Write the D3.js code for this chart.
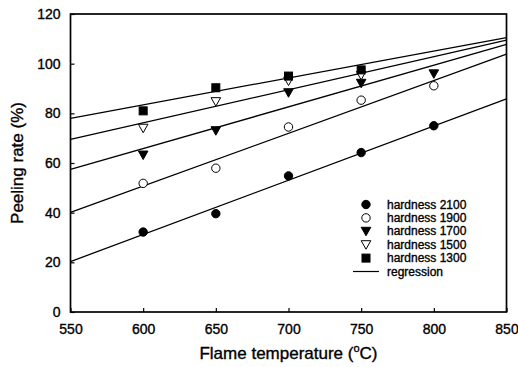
<!DOCTYPE html>
<html>
<head>
  <title>Peeling rate</title>
  <style type="text/css">
    body { margin: 0; background: #fff; }
    svg text { font-family: "Liberation Sans", Arial, sans-serif; fill: #000; stroke: #000; stroke-width: 0.35px; }
  </style>
</head>
<body>
<div id="chart"></div>
<script src="https://d3js.org/d3.v7.min.js"></script>
<script type="text/javascript">
var temps = [600, 650, 700, 750, 800];
var h2100 = [32.2, 39.6, 54.8, 64.2, 75.0];
var h1900 = [51.8, 57.9, 74.5, 85.3, 91.1];
var h1700 = [63.2, 73.0, 88.3, 92.1, 95.9];
var h1500 = [74.0, 84.7, 93.0, 95.3, null];
var h1300 = [81.0, 90.3, 95.0, 97.5, null];
// regression line values at 550 and 850
var reg2100 = [20.3, 85.8];
var reg1900 = [40.1, 103.8];
var reg1700 = [57.4, 107.8];
var reg1500 = [69.5, 109.5];
var reg1300 = [78.0, 110.5];
var xTicks = [550, 600, 650, 700, 750, 800, 850];
var yTicks = [0, 20, 40, 60, 80, 100, 120];

var series = [
  {name: "hardness 2100", vals: h2100, reg: reg2100, shape: "circle", fill: true},
  {name: "hardness 1900", vals: h1900, reg: reg1900, shape: "circle", fill: false},
  {name: "hardness 1700", vals: h1700, reg: reg1700, shape: "tri", fill: true},
  {name: "hardness 1500", vals: h1500, reg: reg1500, shape: "tri", fill: false},
  {name: "hardness 1300", vals: h1300, reg: reg1300, shape: "square", fill: true}
];

var width = 518, height = 367;
var m = {left: 70.5, right: 11.5, top: 14, bottom: 55};

var svg = d3.select("#chart").append("svg")
  .attr("width", width).attr("height", height);

var x = d3.scaleLinear().domain([550, 850]).range([m.left, width - m.right]);
var y = d3.scaleLinear().domain([0, 120]).range([height - m.bottom, m.top]);

// frame
svg.append("rect")
  .attr("x", x(550)).attr("y", y(120))
  .attr("width", x(850) - x(550)).attr("height", y(0) - y(120))
  .attr("fill", "none").attr("stroke", "#000").attr("stroke-width", 1.7);

var xAxis = svg.append("g")
  .attr("transform", "translate(0," + y(0) + ")")
  .call(d3.axisBottom(x).tickValues(xTicks).tickSizeInner(-4).tickSizeOuter(0).tickPadding(12));
var yAxis = svg.append("g")
  .attr("transform", "translate(" + x(550) + ",0)")
  .call(d3.axisLeft(y).tickValues(yTicks).tickSizeInner(-4).tickSizeOuter(0).tickPadding(10));

[xAxis, yAxis].forEach(function (g) {
  g.select(".domain").remove();
  g.selectAll(".tick line").attr("stroke", "#000").attr("stroke-width", 1.2);
  g.selectAll(".tick text").style("font-size", "14px").style("font-family", "Liberation Sans, Arial, sans-serif");
});

// regression lines
series.forEach(function (s) {
  svg.append("line")
    .attr("x1", x(550)).attr("y1", y(s.reg[0]))
    .attr("x2", x(850)).attr("y2", y(s.reg[1]))
    .attr("stroke", "#000").attr("stroke-width", 1.3);
});

function marker(g, s, cx, cy) {
  var fill = s.fill ? "#000" : "#fff";
  if (s.shape === "circle") {
    g.append("circle").attr("cx", cx).attr("cy", cy).attr("r", 4.2)
      .attr("fill", fill).attr("stroke", "#000").attr("stroke-width", 1);
  } else if (s.shape === "tri") {
    g.append("path")
      .attr("d", "M" + (cx - 4.8) + "," + (cy - 4) + "L" + (cx + 4.8) + "," + (cy - 4) + "L" + cx + "," + (cy + 4.5) + "Z")
      .attr("fill", fill).attr("stroke", "#000").attr("stroke-width", 1);
  } else {
    g.append("rect").attr("x", cx - 4).attr("y", cy - 4).attr("width", 8).attr("height", 8)
      .attr("fill", fill).attr("stroke", "#000").attr("stroke-width", 1);
  }
}

var pts = svg.append("g");
series.forEach(function (s) {
  s.vals.forEach(function (v, i) {
    if (v === null) return;
    marker(pts, s, x(temps[i]), y(v));
  });
});

// legend
var lg = svg.append("g");
series.forEach(function (s, i) {
  var ly = 204.5 + i * 13.4;
  marker(lg, s, 366, ly);
  lg.append("text").attr("x", 387).attr("y", ly + 4)
    .style("font-size", "12px").text(s.name);
});
var ry = 204.5 + 5 * 13.4;
lg.append("line").attr("x1", 353).attr("x2", 379).attr("y1", ry).attr("y2", ry)
  .attr("stroke", "#000").attr("stroke-width", 1.2);
lg.append("text").attr("x", 387).attr("y", ry + 4)
  .style("font-size", "12px").text("regression");

// axis titles
svg.append("text")
  .attr("transform", "translate(23," + y(60) + ") rotate(-90)")
  .attr("text-anchor", "middle").style("font-size", "17px")
  .text("Peeling rate (%)");

var xt = svg.append("text")
  .attr("x", x(700)).attr("y", 359)
  .attr("text-anchor", "middle").style("font-size", "17px");
xt.append("tspan").text("Flame temperature (");
xt.append("tspan").attr("dy", -7).style("font-size", "11px").text("o");
xt.append("tspan").attr("dy", 7).text("C)");
</script>
</body>
</html>
